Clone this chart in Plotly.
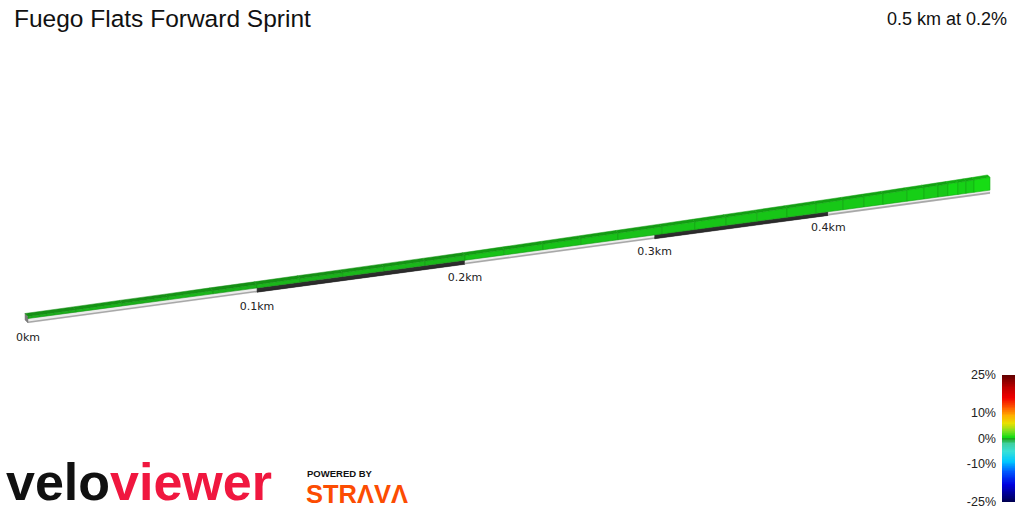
import numpy as np
import plotly.graph_objects as go

# ---------------- data ----------------
TITLE = "Fuego Flats Forward Sprint"
SUMMARY = "0.5 km at 0.2%"

dist_km = [0.0, 0.02, 0.04, 0.06, 0.08, 0.10, 0.12, 0.14, 0.16, 0.18, 0.20,
           0.22, 0.24, 0.26, 0.28, 0.304, 0.3225, 0.34, 0.358, 0.3754, 0.3925,
           0.4088, 0.4216, 0.4333, 0.4482, 0.4589, 0.4678, 0.4742, 0.4806,
           0.4857, 0.4909, 0.5013]
elev_m = [172.00, 172.02, 172.05, 172.07, 172.10, 172.12, 172.15, 172.17,
          172.20, 172.23, 172.26, 172.31, 172.36, 172.41, 172.46, 172.52,
          172.57, 172.62, 172.67, 172.72, 172.77, 172.82, 172.86, 172.90,
          172.95, 172.99, 173.02, 173.04, 173.07, 173.09, 173.11, 173.17]

km_marks = [0.0, 0.1, 0.2, 0.3, 0.4]
km_labels = ["0km", "0.1km", "0.2km", "0.3km", "0.4km"]

grad_ticks = [25, 10, 0, -10, -25]
grad_tick_labels = ["25%", "10%", "0%", "-10%", "-25%"]

grad_stops = [-25, -18, -13, -9, -5, -2, 0, 0.5, 3, 6, 9, 12, 16, 20, 25]
grad_colors = ["#00004d", "#0000e0", "#0058ff", "#00c8ff", "#38e0d8", "#40d0a0",
               "#1ca81c", "#14dc14", "#80e020", "#e8e000", "#ffb000", "#ff6000",
               "#f00000", "#c00000", "#600000"]

# ---------------- helpers ----------------
def hex2rgb(h):
    h = h.lstrip("#")
    return np.array([int(h[i:i + 2], 16) for i in (0, 2, 4)], dtype=float)

RGB = np.array([hex2rgb(c) for c in grad_colors])


def grad_color(g, shade=1.0):
    g = float(np.clip(g, grad_stops[0], grad_stops[-1]))
    c = [np.interp(g, grad_stops, RGB[:, k]) * shade for k in range(3)]
    return "rgb(%d,%d,%d)" % tuple(int(round(min(255, v))) for v in c)


# projection (screen pixels) of the 3-D ribbon
X0, A, C = 28.0, 2420.6, 0.5067
YG0, SLOPE = 323.0, -0.1344
SLAB, HMIN, TOP, DX, KV = 4.5, 2.0, 3.0, -3.0, 12.0
LABEL_GAP = 15.5


def proj_x(d):
    d = np.asarray(d, dtype=float)
    return (A * d + X0) / (C * d + 1.0)


def scale(d):
    return 1.0 / (C * np.asarray(d, dtype=float) + 1.0)


def ground_y(d):
    return YG0 + SLOPE * (proj_x(d) - X0)


d = np.array(dist_km)
e = np.array(elev_m)
sc = scale(d)
X = proj_x(d)
Yg = ground_y(d)
Ys = Yg - SLAB * sc
Yt = Yg - (SLAB + HMIN + KV * (e - e.min())) * sc
Xb = X + DX * sc
Ytb = Yt - TOP * sc

fig = go.Figure()


def poly(xs, ys, fill, line=None, lw=0.6):
    fig.add_trace(go.Scatter(
        x=list(xs) + [xs[0]], y=list(ys) + [ys[0]], mode="lines",
        fill="toself", fillcolor=fill,
        line=dict(color=line or fill, width=lw),
        hoverinfo="skip", showlegend=False))


# base slab with alternating 100 m bands
bounds = km_marks + [dist_km[-1]]
for i in range(len(bounds) - 1):
    da, db = bounds[i], bounds[i + 1]
    xa, xb = float(proj_x(da)), float(proj_x(db))
    ya, yb = float(ground_y(da)), float(ground_y(db))
    sa, sb = float(scale(da)), float(scale(db))
    dark = i % 2 == 1
    poly([xa, xb, xb, xa], [ya, yb, yb - SLAB * sb, ya - SLAB * sa],
         "#2e2e2e" if dark else "#ececec", lw=0.5)
    fig.add_trace(go.Scatter(x=[xa, xb], y=[ya - 0.8, yb - 0.8], mode="lines",
                             line=dict(color="#2a2a2a" if dark else "#a8a8a8", width=1.6),
                             hoverinfo="skip", showlegend=False))

# left end cap
poly([X[0], X[0], Xb[0], Xb[0]],
     [Yg[0], Yt[0], Ytb[0], Yg[0] - TOP * sc[0]], "#7c7c7c", lw=0.5)

# top and side faces of the wall
grads = np.diff(e) / (np.diff(d) * 1000.0) * 100.0
for i in range(len(d) - 1):
    g = grads[i]
    poly([X[i], X[i + 1], Xb[i + 1], Xb[i]],
         [Yt[i], Yt[i + 1], Ytb[i + 1], Ytb[i]], grad_color(g, 0.8), lw=0.5)
for i in range(len(d) - 1):
    g = grads[i]
    poly([X[i], X[i + 1], X[i + 1], X[i]],
         [Ys[i], Ys[i + 1], Yt[i + 1], Yt[i]], grad_color(g, 1.0),
         line=grad_color(g, 0.8), lw=0.6)

# distance labels
km = np.array(km_marks)
fig.add_trace(go.Scatter(
    x=proj_x(km), y=ground_y(km) + LABEL_GAP * scale(km), mode="text",
    text=km_labels,
    textfont=dict(family="DejaVu Sans", size=11, color="#222222"),
    hoverinfo="skip", showlegend=False))

# gradient colour bar
levels = np.linspace(-25, 25, 201)
cs = [[(s - grad_stops[0]) / (grad_stops[-1] - grad_stops[0]), c]
      for s, c in zip(grad_stops, grad_colors)]
fig.add_trace(go.Heatmap(
    z=[[v] for v in levels], y=levels, x=[0], colorscale=cs,
    zmin=-25, zmax=25, showscale=False, hoverinfo="skip",
    xaxis="x2", yaxis="y2"))

fig.update_layout(
    width=1024, height=512,
    margin=dict(l=0, r=0, t=0, b=0, autoexpand=False),
    paper_bgcolor="white", plot_bgcolor="white",
    showlegend=False,
    xaxis=dict(range=[0, 1024], visible=False, domain=[0, 1], automargin=False),
    yaxis=dict(range=[512, 0], visible=False, domain=[0, 1], automargin=False),
    xaxis2=dict(domain=[1002 / 1024, 1015 / 1024], visible=False,
                anchor="y2", range=[-0.5, 0.5], automargin=False),
    yaxis2=dict(domain=[10 / 512, 137 / 512], range=[-25, 25], anchor="x2",
                side="left", tickvals=grad_ticks, ticktext=grad_tick_labels,
                showgrid=False, zeroline=False, showline=False, ticks="",
                ticklabelstandoff=5, automargin=False, ticklabeloverflow="allow",
                tickfont=dict(family="Liberation Sans", size=12.5, color="#222222")),
    annotations=[
        dict(text=TITLE, x=12, y=18, xref="x", yref="y", xanchor="left",
             yanchor="middle", showarrow=False,
             font=dict(family="Liberation Sans", size=24.5, color="#111111")),
        dict(text=SUMMARY, x=1009, y=19, xref="x", yref="y", xanchor="right",
             yanchor="middle", showarrow=False,
             font=dict(family="Liberation Sans", size=18, color="#111111")),
        dict(text="<span style='color:#111111'>velo</span>"
                  "<span style='color:#f0173f'>viewer</span>",
             x=4, y=482, xref="x", yref="y", xanchor="left", yanchor="middle",
             showarrow=False,
             font=dict(family="Liberation Sans", size=52, weight="bold")),
        dict(text="POWERED BY", x=305, y=473, xref="x", yref="y",
             xanchor="left", yanchor="middle", showarrow=False,
             font=dict(family="Liberation Sans", size=9.5, color="#111111",
                       weight="bold")),
        dict(text="STRΛVΛ", x=304, y=494, xref="x", yref="y",
             xanchor="left", yanchor="middle", showarrow=False,
             font=dict(family="Liberation Sans", size=25.5, color="#fc4c02",
                       weight="bold")),
    ],
)

fig.write_html("out.html",
               config={"displayModeBar": False},
               post_script="document.documentElement.style.margin='0px';"
                           "document.documentElement.style.overflow='hidden';"
                           "document.body.style.margin='0px';"
                           "document.body.style.overflow='hidden';")
